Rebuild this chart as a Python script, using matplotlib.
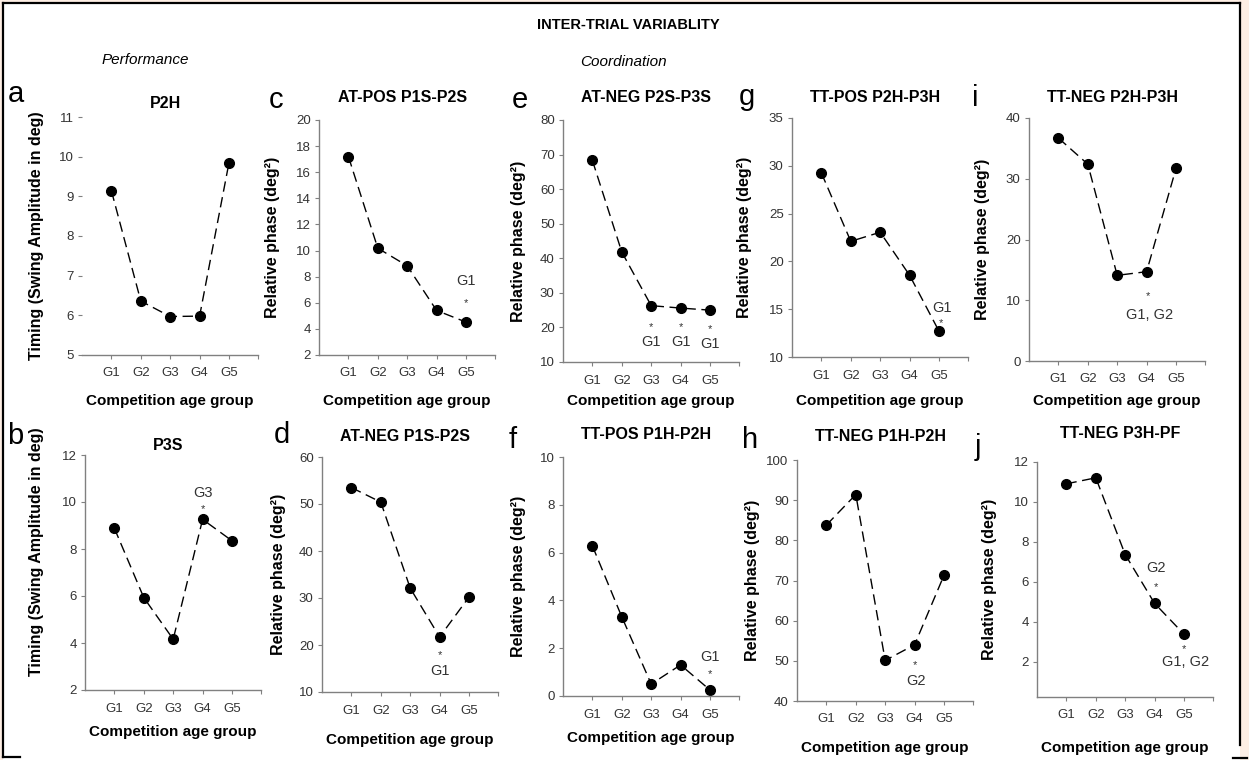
import matplotlib
matplotlib.use('Agg')
import matplotlib.pyplot as plt
from matplotlib.lines import Line2D
from matplotlib.patches import Rectangle

plt.rcParams['font.family'] = ['Liberation Sans', 'DejaVu Sans']

# values
groups = ['G1', 'G2', 'G3', 'G4', 'G5']
p2h = [9.14, 6.36, 5.97, 5.98, 9.85]
p3s = [8.88, 5.93, 4.16, 9.26, 8.35]
at_pos_p1s_p2s = [17.2, 10.18, 8.83, 5.41, 4.52]
at_neg_p1s_p2s = [53.5, 50.4, 32.1, 21.7, 30.2]
at_neg_p2s_p3s = [68.3, 41.8, 26.3, 25.6, 25.0]
tt_pos_p1h_p2h = [6.28, 3.31, 0.5, 1.3, 0.25]
tt_pos_p2h_p3h = [29.25, 22.1, 23.05, 18.55, 12.7]
tt_neg_p1h_p2h = [83.8, 91.4, 50.1, 54.0, 71.3]
tt_neg_p2h_p3h = [36.7, 32.4, 14.1, 14.7, 31.7]
tt_neg_p3h_pf = [10.91, 11.21, 7.37, 4.93, 3.39]

timing_label = 'Timing (Swing Amplitude in deg)'
phase_label = 'Relative phase (deg²)'
xlab = 'Competition age group'

W, H = 1249, 760
fig = plt.figure(figsize=(W / 100, H / 100), dpi=100)
fig.patch.set_facecolor('#fdeee4')
fig.add_artist(Rectangle((3 / W, 0), 1237 / W, 1 - 3 / H, transform=fig.transFigure,
                         facecolor='white', edgecolor='none', zorder=-5))
for xs, ys in [([3, 3], [3, 757]), ([3, 1240], [3, 3]), ([1240, 1240], [3, 745]),
               ([3, 20], [757, 757]), ([1233, 1247], [758, 758])]:
    fig.add_artist(Line2D([x / W for x in xs], [1 - y / H for y in ys],
                          transform=fig.transFigure, color='black', lw=1.6))


def ftext(x, y, s, **kw):
    fig.text(x / W, 1 - y / H, s, **kw)


ftext(628, 25, 'INTER-TRIAL VARIABLITY', ha='center', va='center', fontsize=10.5, fontweight='bold')
ftext(145, 60, 'Performance', ha='center', va='center', fontsize=11, style='italic')
ftext(623, 62, 'Coordination', ha='center', va='center', fontsize=11, style='italic')

# letter, title, values, ylim, yticks, ylabel, (spine x, top y, bottom y),
# letter xy, ylabel x, title y, xlabel y, notes (group, text, y)
panels = [
    dict(letter='a', title='P2H', vals=p2h, ylim=(5, 11), yt=range(5, 12), yl=timing_label,
         box=(82, 117, 355), lxy=(16, 94), ylx=37, ty=103, xly=401, noleft=True, notes=[]),
    dict(letter='c', title='AT-POS P1S-P2S', vals=at_pos_p1s_p2s, ylim=(2, 20), yt=range(2, 21, 2),
         yl=phase_label, box=(319, 120, 355), lxy=(276, 100), ylx=273, ty=98, xly=401,
         notes=[(5, '*', 6.2), (5, 'G1', 7.75)]),
    dict(letter='e', title='AT-NEG P2S-P3S', vals=at_neg_p2s_p3s, ylim=(10, 80), yt=range(10, 81, 10),
         yl=phase_label, box=(563, 120, 362), lxy=(520, 100), ylx=518, ty=98, xly=401,
         notes=[(3, '*', 21), (4, '*', 21), (5, '*', 20.5),
                (3, 'G1', 16.3), (4, 'G1', 16.3), (5, 'G1', 15.6)]),
    dict(letter='g', title='TT-POS P2H-P3H', vals=tt_pos_p2h_p3h, ylim=(10, 35), yt=range(10, 36, 5),
         yl=phase_label, box=(792, 118, 357), lxy=(747, 97), ylx=745, ty=98, xly=401,
         notes=[(5.05, '*', 13.9), (5.1, 'G1', 15.3)]),
    dict(letter='i', title='TT-NEG P2H-P3H', vals=tt_neg_p2h_p3h, ylim=(0, 40), yt=range(0, 41, 10),
         yl=phase_label, box=(1029, 118, 361), lxy=(975, 98), ylx=982, ty=98, xly=401,
         notes=[(4.05, '*', 11.2), (4.1, 'G1, G2', 7.9)]),
    dict(letter='b', title='P3S', vals=p3s, ylim=(2, 12), yt=range(2, 13, 2), yl=timing_label,
         box=(85, 455, 690), lxy=(15, 436), ylx=37, yly=552, ty=445, xly=732,
         notes=[(4, '*', 9.85), (4, 'G3', 10.45)]),
    dict(letter='d', title='AT-NEG P1S-P2S', vals=at_neg_p1s_p2s, ylim=(10, 60), yt=range(10, 61, 10),
         yl=phase_label, box=(322, 457, 692), lxy=(282, 435), ylx=278, ty=437, xly=740,
         notes=[(4, '*', 18.5), (4, 'G1', 14.7)]),
    dict(letter='f', title='TT-POS P1H-P2H', vals=tt_pos_p1h_p2h, ylim=(0, 10), yt=range(0, 11, 2),
         yl=phase_label, box=(563, 457, 696), lxy=(513, 440), ylx=518, ty=435, xly=738,
         notes=[(5, '*', 1.05), (5, 'G1', 1.7)]),
    dict(letter='h', title='TT-NEG P1H-P2H', vals=tt_neg_p1h_p2h, ylim=(40, 100), yt=range(40, 101, 10),
         yl=phase_label, box=(797, 460, 701), lxy=(750, 440), ylx=753, ty=437, xly=748,
         notes=[(4, '*', 49.8), (4.05, 'G2', 45.3)]),
    dict(letter='j', title='TT-NEG P3H-PF', vals=tt_neg_p3h_pf, ylim=(0.25, 12), yt=range(2, 13, 2),
         yl=phase_label, box=(1037, 462, 697), lxy=(978, 447), ylx=990, ty=433, xly=748,
         notes=[(4.03, '*', 5.9), (4.05, 'G2', 6.75), (5, '*', 2.8), (5.05, 'G1, G2', 2.1)]),
]

step = 29.4
xpos = [1, 2, 3, 4, 5]
for p in panels:
    x0, yt_px, yb_px = p['box']
    ax = fig.add_axes([x0 / W, 1 - yb_px / H, 6 * step / W, (yb_px - yt_px) / H])
    ax.patch.set_alpha(0)
    ax.plot(xpos, p['vals'], color='black', ls=(0, (7.5, 4)), lw=1.0,
            marker='o', ms=7, clip_on=False)
    ax.set_xlim(0, 6)
    ax.set_ylim(*p['ylim'])
    ax.set_yticks(list(p['yt']))
    ax.set_xticks(xpos, groups)
    ax.set_xticks([6], minor=True)
    for s in ['top', 'right']:
        ax.spines[s].set_visible(False)
    for s in ['left', 'bottom']:
        ax.spines[s].set_color('#808080')
        ax.spines[s].set_linewidth(1.0)
    if p.get('noleft'):
        ax.spines['left'].set_visible(False)
    ax.tick_params(which='both', colors='#808080', labelcolor='#333333', labelsize=9.5,
                   length=3, width=0.8)
    ax.tick_params(axis='x', pad=6)
    ax.tick_params(axis='y', pad=3)
    for gx, txt, gy in p['notes']:
        if txt == '*':
            ax.annotate('*', (gx, gy), xytext=(0, -4.5), textcoords='offset points',
                        ha='center', va='baseline', fontsize=8, color='#333333')
        else:
            ax.text(gx, gy, txt, ha='center', va='center_baseline', fontsize=10.5, color='#333333')

    xc = x0 + 3 * step
    ftext(xc - 5, p['ty'], p['title'], ha='center', va='center', fontsize=11.5, fontweight='bold')
    ftext(p['lxy'][0], p['lxy'][1], p['letter'], ha='center', va='center', fontsize=21)
    yly = p.get('yly', (yt_px + yb_px) / 2)
    ftext(p['ylx'], yly, p['yl'], ha='center', va='center', rotation=90,
          fontsize=11.5, fontweight='bold')
    ftext(xc, p['xly'], xlab, ha='center', va='center', fontsize=11, fontweight='bold')

fig.savefig('out.png', dpi=100, facecolor=fig.get_facecolor())
